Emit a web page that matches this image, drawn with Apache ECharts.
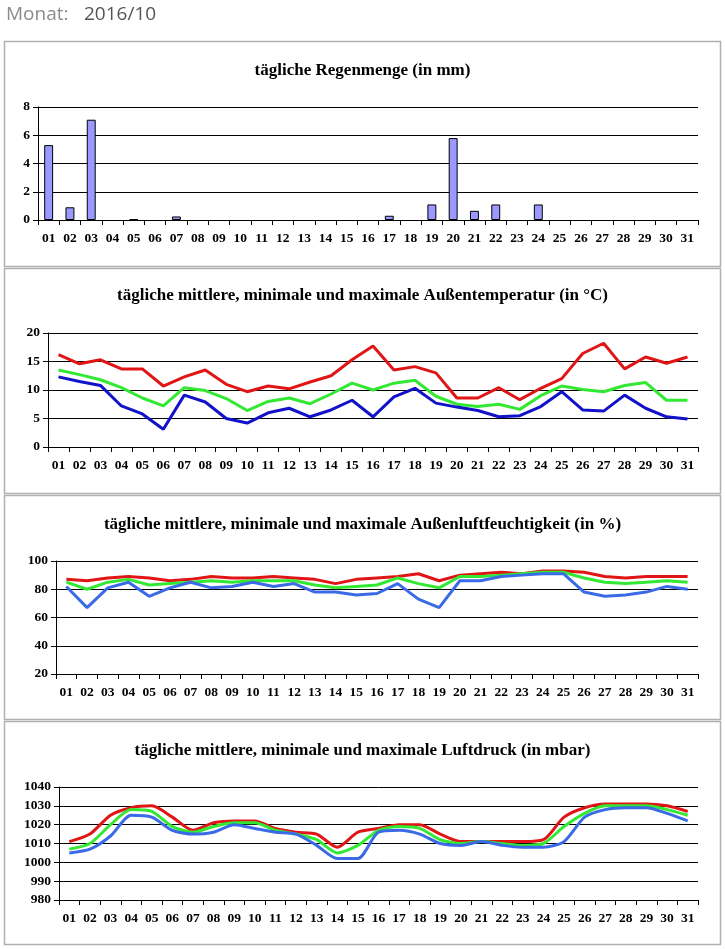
<!DOCTYPE html>
<html>
<head>
<meta charset="utf-8">
<script src="https://cdn.jsdelivr.net/npm/echarts@6/dist/echarts.min.js"></script>
<style>
html,body{margin:0;padding:0;background:#fff;}
#c{width:725px;height:949px;}
</style>
</head>
<body>
<div id="c"></div>
<script>
const days = ['01','02','03','04','05','06','07','08','09','10','11','12','13','14','15','16','17','18','19','20','21','22','23','24','25','26','27','28','29','30','31'];

const rain = [5.3,0.9,7.1,0,0.05,0,0.25,0,0,0,0,0,0,0,0,0,0.3,0,1.1,5.8,0.65,1.1,0,1.1,0,0,0,0,0,0,0];

const tempMax = [16.2,14.6,15.3,13.7,13.7,10.7,12.3,13.5,11.0,9.7,10.7,10.2,11.4,12.5,15.3,17.7,13.5,14.1,13.0,8.6,8.6,10.4,8.3,10.3,12.0,16.4,18.2,13.7,15.8,14.7,15.8];
const tempMean = [13.5,12.7,11.8,10.4,8.6,7.2,10.4,9.9,8.5,6.4,8.0,8.6,7.6,9.3,11.2,10.0,11.2,11.7,8.9,7.5,7.1,7.5,6.6,9.0,10.7,10.1,9.7,10.8,11.3,8.2,8.2];
const tempMin = [12.3,11.5,10.8,7.2,5.8,3.1,9.1,7.9,5.0,4.2,6.0,6.8,5.3,6.5,8.2,5.3,8.8,10.3,7.7,7.0,6.4,5.3,5.5,7.1,9.7,6.5,6.3,9.1,6.8,5.3,4.9];

const humMax = [87,86,88,89,88,86,87,89,88,88,89,88,87,84,87,88,89,91,86,90,91,92,91,93,93,92,89,88,89,89,89];
const humMean = [85,80,85,87,83,84,85,86,85,86,86,86,83,81,82,83,88,84,81,89,89,90,91,92,92,88,85,84,85,86,85];
const humMin = [82,67,81,85,75,81,85,81,82,85,82,84,78,78,76,77,84,73,67,86,86,89,90,91,91,78,75,76,78,82,80];

const presMax = [1011,1015,1025,1029,1030,1024,1017,1021,1022,1022,1018,1016,1015,1008,1016,1018,1020,1020,1015,1011,1011,1011,1011,1012,1024,1029,1031,1031,1031,1030,1027];
const presMean = [1007,1010,1020,1028,1027,1019,1016,1019,1021,1021,1017,1015,1012,1005,1009,1017,1019,1018,1012,1010,1011,1010,1009,1010,1019,1026,1030,1030,1030,1028,1025];
const presMin = [1005,1007,1014,1025,1024,1017,1015,1016,1020,1018,1016,1015,1009,1002,1002,1016,1017,1015,1010,1009,1011,1009,1008,1008,1011,1024,1028,1029,1029,1026,1022];

const titles = [
  'tägliche Regenmenge (in mm)',
  'tägliche mittlere, minimale und maximale Außentemperatur (in °C)',
  'tägliche mittlere, minimale und maximale Außenluftfeuchtigkeit (in %)',
  'tägliche mittlere, minimale und maximale Luftdruck (in mbar)'
];

const serif = '"Liberation Serif", "DejaVu Serif", serif';
const RED = '#e01515', GREEN = '#33e833', DBLUE = '#1212c8', LBLUE = '#3a6ae6';

const grids = [
  {left:38, top:107, right:27, height:113},
  {left:48, top:333, right:27, height:114},
  {left:56, top:561, right:27, height:113},
  {left:59, top:787, right:27, height:113}
];
const titleTops = [57, 282, 511, 737];
const panels = [[4,41,716,225],[4,268,716,225],[4,495,716,224],[4,721,716,223]];

function xAxis(i){
  return {type:'category', gridIndex:i, data:days, boundaryGap:true,
    axisLine:{lineStyle:{color:'#000',width:1}},
    axisTick:{show:true, length:5, lineStyle:{color:'#000'}},
    axisLabel:{color:'#000', fontFamily:serif, fontWeight:'bold', fontSize:13.5, margin:12, interval:0}};
}
function yAxis(i,min,max,interval){
  return {type:'value', gridIndex:i, min:min, max:max, interval:interval,
    axisLine:{show:true, lineStyle:{color:'#000',width:1}},
    axisTick:{show:true, length:5, lineStyle:{color:'#000'}},
    splitLine:{show:true, lineStyle:{color:'#000',width:1}},
    axisLabel:{color:'#000', fontFamily:serif, fontWeight:'bold', fontSize:13.5, margin:8,
      formatter: v => String(v)}};
}
function line(i,data,color,smooth){
  return {type:'line', xAxisIndex:i, yAxisIndex:i, data:data, symbol:'none', smooth:smooth||false,
    lineStyle:{color:color, width:3}, itemStyle:{color:color}, z:3};
}

const option = {
  animation:false,
  backgroundColor:'#fff',
  title: titles.map((t,i)=>({text:t, left:'center', top:titleTops[i],
    textStyle:{fontFamily:serif, fontWeight:'bold', fontSize:17, color:'#000'}})),
  grid: grids,
  xAxis: [0,1,2,3].map(xAxis),
  yAxis: [yAxis(0,0,8,2), yAxis(1,0,20,5), yAxis(2,20,100,20), yAxis(3,980,1040,10)],
  series: [
    {type:'bar', xAxisIndex:0, yAxisIndex:0, data:rain.map(v => v === 0 ? '-' : v), barWidth:'42%',
      itemStyle:{color:'#9999ff', borderColor:'#000', borderWidth:1}},
    line(1,tempMax,RED), line(1,tempMean,GREEN), line(1,tempMin,DBLUE),
    line(2,humMax,RED), line(2,humMean,GREEN), line(2,humMin,LBLUE),
    line(3,presMax,RED,0.25), line(3,presMean,GREEN,0.25), line(3,presMin,LBLUE,0.25)
  ],
  graphic: [
    {type:'text', left:6, top:5, style:{text:'Monat:', font:'19px "Open Sans", sans-serif', fill:'#8c8c8c'}},
    {type:'text', left:84, top:5, style:{text:'2016/10', font:'19px "Open Sans", sans-serif', fill:'#555'}}
  ].concat(panels.map(p=>({type:'rect', shape:{x:p[0]+0.5,y:p[1]+0.5,width:p[2],height:p[3]},
    style:{fill:'none', stroke:'#b0b0b0', lineWidth:1.5}, z:-1})))
};

const chart = echarts.init(document.getElementById('c'), null, {renderer:'canvas'});
chart.setOption(option);
</script>
</body>
</html>
